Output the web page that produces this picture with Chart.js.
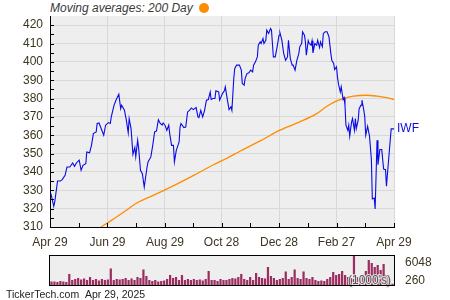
<!DOCTYPE html>
<html>
<head>
<meta charset="utf-8">
<script src="https://cdn.jsdelivr.net/npm/chart.js@4.4.1/dist/chart.umd.min.js"></script>
<style>
body { margin: 0; background: #fff; width: 450px; height: 300px; overflow: hidden; position: relative; font-family: "Liberation Sans", Arial, sans-serif; }
#main { position: absolute; left: 0; top: 0; }
#vol { position: absolute; left: 0; top: 250px; }
#legend { position: absolute; left: 50px; top: 1px; font-style: italic; font-size: 12px; color: #3a3a3a; white-space: nowrap; }
#legend span { display: inline-block; width: 10px; height: 10px; border-radius: 50%; background: #ff8c00; margin-left: 6px; vertical-align: -1px; }
#foot { position: absolute; left: 6px; top: 288px; font-size: 10.5px; color: #222; white-space: nowrap; }
</style>
</head>
<body>
<div id="legend">Moving averages: 200 Day<span></span></div>
<canvas id="main" width="450" height="252"></canvas>
<canvas id="vol" width="450" height="42"></canvas>
<div id="foot">TickerTech.com&nbsp;&nbsp;Apr 29, 2025</div>
<script>
// days since Apr 29 2024
const tickDays = [0, 61, 122, 182, 243, 304, 365];
const tickLabels = ["Apr 29", "Jun 29", "Aug 29", "Oct 28", "Dec 28", "Feb 27", "Apr 29"];
const yTicks = [310, 320, 330, 340, 350, 360, 370, 380, 390, 400, 410, 420];

const priceDays = [1, 4, 5, 8, 11, 13, 16, 18, 21, 24, 26, 28, 31, 33, 35, 38, 39, 42, 44, 46, 49, 50, 52, 55, 57, 59,
  62, 64, 65, 68, 70, 73, 75, 76, 79, 81, 83, 84, 86, 88, 90, 91, 93, 94, 96, 98, 100, 101, 103, 104, 107, 109, 111,
  113, 115, 117, 119, 120, 122, 124, 126, 127, 129, 131, 132, 134, 137, 138, 139, 142, 144, 146, 148, 150, 152, 155,
  157, 158, 160, 162, 164, 166, 168, 170, 171, 173, 175, 176, 179, 180, 183, 185, 186, 188, 190, 192, 193, 195, 196,
  198, 201, 203, 204, 206, 207, 209, 211, 213, 215, 216, 218, 220, 221, 223, 224, 226, 227, 229, 230, 232, 234, 235,
  237, 239, 241, 243, 244, 246, 248, 250, 252, 253, 255, 257, 258, 260, 262, 264, 265, 267, 268, 270, 271, 272, 274,
  275, 277, 278, 279, 281, 283, 284, 286, 287, 289, 290, 292, 294, 296, 298, 299, 301, 302, 304, 305, 306, 308, 309,
  311, 312, 313, 314, 316, 317, 318, 320, 321, 323, 324, 325, 327, 328, 330, 331, 333, 334, 335, 337, 339, 341, 342,
  344, 345, 347, 348, 350, 352, 354, 356, 357, 359, 362, 365];
const prices = [328.2, 321.3, 323.6, 335.1, 335.1, 335.8, 338.2, 342.7, 342.7, 344.9, 343.1, 344.9, 346.4, 340.9, 343.6,
  344.5, 350.9, 350.4, 354.5, 360.9, 361.8, 366.4, 366.7, 362.7, 360, 365.5,
  366.9, 366.4, 370, 376.4, 379.1, 382.4, 374.5, 376.4, 373.6, 368.2, 361.3, 369.1, 363.6, 349.6, 353.3, 348.2, 357.3,
  353.3, 340.9, 339.1, 331.8, 335.5, 342.7, 345.5, 348.2, 354.5, 361.8,
  362.4, 368.5, 366.4, 365.5, 366.7, 365.5, 362.7, 365.5, 360.9, 354.5, 354.5, 345.5, 351.8, 356.4, 364.5, 366.4, 364.2,
  364.5, 372.7, 373.6, 374.9, 374, 375.1,
  370, 369.6, 373.6, 370, 373.6, 379.1, 379.5, 383.6, 379.5, 380, 380, 384.2, 383.6, 379.1, 382.7, 384.2, 386.4, 380,
  374, 375.5, 373.6, 390.9, 396.4,
  398.2, 398.2, 395.5, 388.2, 387.3, 390.9, 393.6, 394, 395.5, 394.5, 398.2, 400, 402.7, 409.1, 410.9, 410, 412.7, 410,
  411.8, 417.3, 415.5, 418.2, 417.3,
  402.7, 402.7, 408.2, 414.5, 415.8, 411.8, 404.5, 400.9, 402.7, 411.8, 401.8, 398.2, 398.2, 395.5, 400.9, 404.5, 408.2,
  410, 416.4, 414.5, 410.9, 403.6, 411.5,
  410, 409.1, 411.5, 404.9, 410, 409.1, 411.8, 407.8, 410.9, 408.2, 415.5, 416.4, 416.4, 413.6, 404.5, 400.9, 399.1,
  395.8, 397.3, 391.8, 388.2, 383.6, 386.4,
  379.5, 380.5, 376.4, 365.5, 362.7, 365.5, 359.5, 367.3, 369.1, 362.7, 369.1, 363.6, 368.2, 374.5, 376.4, 379.1, 373.6,
  370, 360, 364.9, 359.5, 346.8, 325.3,
  325.8, 319.8, 357.3, 344, 352.2, 352.2, 341.6, 341.2, 332.2, 344.9, 363.5, 363.5];

const maDays = [54, 64, 81, 92, 106, 121, 135, 152, 173, 187, 202, 223, 244, 265, 283, 293, 302, 311, 322, 336, 347, 357, 365];
const maValues = [310, 313.2, 319.1, 323.1, 326.4, 330, 333.5, 338, 343.8, 347.3, 351.4, 356.9, 362.8, 367.3, 371.8,
  375.5, 378.2, 380, 381.3, 381.8, 381.3, 380.5, 379.5];

// volume in 1000's
const volume = [730, 730, 630, 830, 730, 630, 2300, 1040, 1250, 1460, 1150, 1360, 1040, 1670, 1040, 1250, 940, 1250,
  1040, 1150, 3440, 1040, 1250, 1150, 1250, 1460, 1040, 1360, 1040, 1670, 1460, 3230, 1880, 1040, 830, 1040, 730, 830,
  940, 1250, 2090, 1460, 1670, 1040, 2090, 1040, 1250, 1040, 1250, 1040, 1150, 940, 1250, 2920, 1040, 1040, 830, 1250,
  1040, 1040, 1250, 1460, 1360, 1670, 2300, 1250, 1040, 1670, 1040, 2500, 1670, 1460, 1360, 3760, 1880, 1460, 1040,
  1250, 1460, 2820, 1250, 1670, 3230, 1460, 1250, 2820, 1460, 1250, 1670, 1040, 830, 940, 830, 1250, 1670, 2710, 2090,
  2300, 2920, 2090, 1670, 1460, 6048, 1670, 1460, 1880, 2920, 5220, 4590, 3760, 4170, 3130, 4380, 2090, 1460, 260];
const volTicks = [260, 6048];

const textColor = "#3d3520";
const gridColor = "#d8d8d8";

const plotBg = {
  id: "plotBg",
  beforeDraw(chart) {
    const a = chart.chartArea;
    const ctx = chart.ctx;
    ctx.save();
    ctx.fillStyle = "#eeeeee";
    ctx.fillRect(a.left, a.top, a.right - a.left, a.bottom - a.top);
    ctx.restore();
  }
};

// small tick marks drawn inside the plot, like the original
const innerTicks = {
  id: "innerTicks",
  afterDraw(chart) {
    const a = chart.chartArea;
    const ctx = chart.ctx;
    const xs = chart.scales.x, ys = chart.scales.y;
    ctx.save();
    ctx.strokeStyle = "#000";
    ctx.lineWidth = 1;
    ctx.beginPath();
    for (let v = 315; v <= 420; v += 5) {
      const y = Math.round(ys.getPixelForValue(v)) + 0.5;
      ctx.moveTo(a.left, y);
      ctx.lineTo(a.left + 4, y);
    }
    for (let i = 0; i < tickDays.length; i++) {
      const x = Math.round(xs.getPixelForValue(tickDays[i])) + 0.5;
      ctx.moveTo(x, a.bottom);
      ctx.lineTo(x, a.bottom - 4);
      if (i > 0) {
        const xm = Math.round(xs.getPixelForValue((tickDays[i] + tickDays[i - 1]) / 2)) + 0.5;
        ctx.moveTo(xm, a.bottom);
        ctx.lineTo(xm, a.bottom - 4);
      }
    }
    ctx.stroke();
    // series name at the last point
    const meta = chart.getDatasetMeta(0);
    const last = meta.data[meta.data.length - 1];
    ctx.fillStyle = "#0a0ae6";
    ctx.font = "12px 'Liberation Sans', Arial, sans-serif";
    ctx.textBaseline = "middle";
    ctx.fillText("IWF", last.x + 3, last.y);
    ctx.restore();
  }
};

new Chart("main", {
  type: "line",
  data: {
    datasets: [{
      data: priceDays.map((d, i) => ({ x: d, y: prices[i] })),
      borderColor: "#0a0ae6",
      borderWidth: 1.1,
      pointRadius: 0,
      tension: 0
    }, {
      data: maDays.map((d, i) => ({ x: d, y: maValues[i] })),
      borderColor: "#ff8c00",
      borderWidth: 1.3,
      pointRadius: 0,
      cubicInterpolationMode: "monotone"
    }]
  },
  options: {
    responsive: false,
    animation: false,
    events: [],
    layout: { padding: { left: 0, right: 56, top: 16, bottom: 0 } },
    plugins: { legend: { display: false }, tooltip: { enabled: false } },
    scales: {
      x: {
        type: "linear",
        min: 0,
        max: 365,
        afterBuildTicks: (s) => { s.ticks = tickDays.map(v => ({ value: v })); },
        afterFit: (s) => { s.height = 25; },
        ticks: {
          autoSkip: false,
          maxRotation: 0,
          padding: 8,
          color: textColor,
          font: { size: 12, family: "'Liberation Sans', Arial, sans-serif" },
          callback: (v) => tickLabels[tickDays.indexOf(v)]
        },
        grid: { color: gridColor, drawTicks: false },
        border: { color: "#000", width: 1 }
      },
      y: {
        min: 310,
        max: 425,
        afterBuildTicks: (s) => { s.ticks = yTicks.map(v => ({ value: v })); },
        afterFit: (s) => { s.width = 50; },
        ticks: {
          padding: 7,
          color: textColor,
          font: { size: 12, family: "'Liberation Sans', Arial, sans-serif" }
        },
        grid: { color: gridColor, drawTicks: false },
        border: { color: "#000", width: 1 }
      }
    }
  },
  plugins: [plotBg, innerTicks]
});

const volBox = {
  id: "volBox",
  beforeDraw(chart) {
    const a = chart.chartArea;
    const ctx = chart.ctx;
    ctx.save();
    ctx.fillStyle = "#eeeeee";
    ctx.fillRect(a.left, a.top, a.right - a.left, a.bottom - a.top);
    ctx.restore();
  },
  afterDraw(chart) {
    const a = chart.chartArea;
    const ctx = chart.ctx;
    ctx.save();
    ctx.font = "12px 'Liberation Sans', Arial, sans-serif";
    ctx.textBaseline = "middle";
    ctx.lineWidth = 2;
    ctx.strokeStyle = "rgba(235,235,235,0.9)";
    ctx.strokeText("(1000's)", a.right - 46, a.bottom - 4);
    ctx.fillStyle = "#505a55";
    ctx.fillText("(1000's)", a.right - 46, a.bottom - 4);
    ctx.strokeStyle = "#000";
    ctx.lineWidth = 1;
    ctx.strokeRect(a.left - 0.5, a.top - 0.5, a.right - a.left + 1, a.bottom - a.top + 1);
    ctx.restore();
  }
};

new Chart("vol", {
  type: "bar",
  data: {
    labels: volume.map((v, i) => i),
    datasets: [{
      data: volume,
      backgroundColor: "#9b2d5f",
      barPercentage: 0.75,
      categoryPercentage: 1,
      yAxisID: "y"
    }]
  },
  options: {
    responsive: false,
    animation: false,
    events: [],
    layout: { padding: { left: 50, right: 0, top: 6, bottom: 7 } },
    plugins: { legend: { display: false }, tooltip: { enabled: false } },
    scales: {
      x: { display: false },
      y: { display: false, min: 0, max: 6048 },
      // label axis: the original prints max/min inset from the box edges
      yl: {
        position: "right",
        min: -1000,
        max: 8170,
        afterBuildTicks: (s) => { s.ticks = volTicks.map(v => ({ value: v })); },
        afterFit: (s) => { s.width = 56; s.paddingTop = 0; s.paddingBottom = 0; },
        ticks: {
          autoSkip: false,
          padding: 3,
          color: textColor,
          font: { size: 12, family: "'Liberation Sans', Arial, sans-serif" },
          callback: (v) => String(v)
        },
        grid: { display: false },
        border: { display: false }
      }
    }
  },
  plugins: [volBox]
});
</script>
</body>
</html>
